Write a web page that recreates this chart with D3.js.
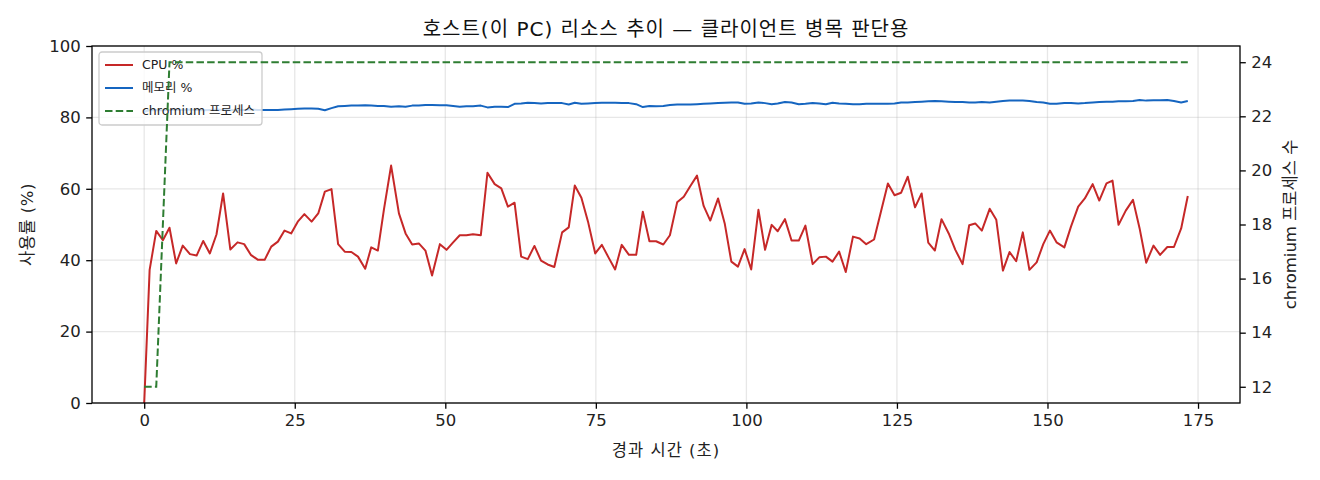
<!DOCTYPE html>
<html>
<head>
<meta charset="utf-8">
<script src="https://cdn.jsdelivr.net/npm/d3@7"></script>
<style>
  body { margin: 0; background: #fff; }
  svg { display: block; font-family: "DejaVu Sans", "Noto Sans CJK KR", sans-serif; }
</style>
</head>
<body>
<svg id="chart"></svg>
<script>
// elapsed seconds of each sample
const times = [
  0.0, 0.9, 2.0, 3.1, 4.2, 5.3, 6.4, 7.6, 8.7, 9.8,
  10.9, 12.0, 13.1, 14.3, 15.5, 16.6, 17.7, 18.9, 20.0, 21.1,
  22.2, 23.3, 24.4, 25.5, 26.6, 27.8, 28.9, 30.0, 31.1, 32.2,
  33.3, 34.4, 35.5, 36.7, 37.7, 38.8, 39.8, 41.0, 42.3, 43.4,
  44.5, 45.6, 46.7, 47.8, 49.1, 50.2, 51.3, 52.4, 53.5, 54.6,
  55.9, 57.0, 58.2, 59.3, 60.4, 61.5, 62.6, 63.7, 64.8, 65.9,
  67.0, 68.1, 69.4, 70.5, 71.5, 72.6, 73.7, 74.9, 76.0, 77.1,
  78.2, 79.3, 80.5, 81.7, 82.8, 83.9, 85.0, 86.2, 87.3, 88.5,
  89.6, 90.7, 91.8, 92.9, 94.0, 95.3, 96.4, 97.5, 98.6, 99.7,
  100.8, 102.0, 103.1, 104.2, 105.2, 106.4, 107.5, 108.7, 109.8, 111.0,
  112.1, 113.2, 114.3, 115.4, 116.5, 117.7, 118.8, 119.9, 121.2, 122.3,
  123.5, 124.6, 125.7, 126.8, 128.0, 129.1, 130.2, 131.3, 132.4, 133.6,
  134.7, 135.9, 137.0, 138.0, 139.1, 140.4, 141.5, 142.6, 143.7, 144.8,
  145.9, 147.0, 148.2, 149.3, 150.4, 151.5, 152.8, 153.9, 155.1, 156.2,
  157.5, 158.6, 159.8, 160.8, 161.8, 163.0, 164.2, 165.3, 166.4, 167.6,
  168.7, 169.9, 171.0, 172.2, 173.3
];

const cpu = [
  0, 37.3, 48.2, 45.6, 49.1, 39.1, 44.1, 41.7, 41.3, 45.4,
  41.9, 47.2, 58.7, 43.0, 45.0, 44.5, 41.5, 40.1, 40.1, 43.8,
  45.2, 48.3, 47.5, 50.8, 52.9, 50.8, 53.1, 59.2, 59.9, 44.5,
  42.4, 42.3, 41.0, 37.6, 43.6, 42.7, 54.1, 66.5, 53.1, 47.5,
  44.4, 44.7, 42.7, 35.7, 44.5, 42.9, 45.0, 47.0, 47.0, 47.3,
  47.0, 64.5, 61.3, 60.1, 55.0, 56.1, 41.0, 40.3, 44.0, 39.9,
  38.8, 38.1, 47.8, 49.2, 60.9, 57.5, 50.8, 41.9, 44.3, 40.8,
  37.4, 44.3, 41.5, 41.5, 53.6, 45.3, 45.3, 44.4, 47.0, 56.2,
  57.8, 60.8, 63.7, 55.2, 51.1, 57.3, 50.3, 39.6, 38.2, 43.1,
  37.4, 54.1, 42.9, 49.9, 48.1, 51.5, 45.5, 45.5, 49.7, 38.9,
  40.8, 41.0, 39.6, 42.4, 36.7, 46.6, 46.1, 44.5, 45.8, 53.3,
  61.5, 58.2, 58.9, 63.4, 54.8, 58.7, 44.9, 42.7, 51.5, 47.5,
  42.9, 38.9, 49.8, 50.3, 48.3, 54.4, 51.3, 37.1, 42.3, 39.7,
  47.8, 37.3, 39.4, 44.5, 48.3, 45.0, 43.6, 49.4, 55.0, 57.3,
  61.3, 56.7, 61.5, 62.3, 49.9, 53.9, 56.9, 48.9, 39.3, 44.1,
  41.5, 43.7, 43.7, 48.9, 58.0
];

const memory = [
  81.6, 82.0, 82.1, 82.0, 82.1, 82.2, 82.1, 82.2, 82.1, 82.0,
  82.1, 82.2, 82.1, 82.0, 82.1, 82.1, 82.2, 82.1, 82.1, 82.1,
  82.1, 82.2, 82.3, 82.4, 82.5, 82.5, 82.4, 82.0, 82.6, 83.1,
  83.2, 83.3, 83.3, 83.4, 83.3, 83.2, 83.2, 83.0, 83.1, 83.0,
  83.3, 83.3, 83.5, 83.5, 83.4, 83.4, 83.2, 83.0, 83.1, 83.1,
  83.3, 82.8, 83.0, 83.0, 82.9, 83.8, 83.9, 84.1, 84.0, 83.9,
  84.0, 84.0, 84.0, 83.6, 84.1, 83.8, 83.9, 84.0, 84.1, 84.1,
  84.1, 84.0, 84.0, 83.7, 82.9, 83.2, 83.1, 83.2, 83.5, 83.6,
  83.6, 83.6, 83.7, 83.8, 83.9, 84.0, 84.1, 84.2, 84.2, 83.8,
  83.9, 84.2, 84.0, 83.7, 83.9, 84.3, 84.2, 83.7, 83.8, 84.0,
  83.9, 83.7, 84.1, 83.9, 83.8, 83.7, 83.7, 83.8, 83.8, 83.8,
  83.8, 83.9, 84.2, 84.2, 84.3, 84.4, 84.5, 84.6, 84.5, 84.4,
  84.3, 84.3, 84.2, 84.2, 84.3, 84.2, 84.4, 84.6, 84.7, 84.7,
  84.7, 84.6, 84.3, 84.2, 83.8, 83.8, 84.0, 84.0, 83.9, 84.0,
  84.2, 84.3, 84.4, 84.4, 84.5, 84.5, 84.6, 84.9, 84.7, 84.8,
  84.8, 84.9, 84.6, 84.2, 84.6
];

// chromium process count (right axis)
const procs = [
  12, 12, 12, 18, 24, 24, 24, 24, 24, 24,
  24, 24, 24, 24, 24, 24, 24, 24, 24, 24,
  24, 24, 24, 24, 24, 24, 24, 24, 24, 24,
  24, 24, 24, 24, 24, 24, 24, 24, 24, 24,
  24, 24, 24, 24, 24, 24, 24, 24, 24, 24,
  24, 24, 24, 24, 24, 24, 24, 24, 24, 24,
  24, 24, 24, 24, 24, 24, 24, 24, 24, 24,
  24, 24, 24, 24, 24, 24, 24, 24, 24, 24,
  24, 24, 24, 24, 24, 24, 24, 24, 24, 24,
  24, 24, 24, 24, 24, 24, 24, 24, 24, 24,
  24, 24, 24, 24, 24, 24, 24, 24, 24, 24,
  24, 24, 24, 24, 24, 24, 24, 24, 24, 24,
  24, 24, 24, 24, 24, 24, 24, 24, 24, 24,
  24, 24, 24, 24, 24, 24, 24, 24, 24, 24,
  24, 24, 24, 24, 24, 24, 24, 24, 24, 24,
  24, 24, 24, 24, 24
];

const xTicks = [0, 25, 50, 75, 100, 125, 150, 175];
const yTicks = [0, 20, 40, 60, 80, 100];
const y2Ticks = [12, 14, 16, 18, 20, 22, 24];
const legendLabels = ['CPU %', '메모리 %', 'chromium 프로세스'];

const W = 1320, H = 480;
const mLeft = 92, mRight = 1240, mTop = 46, mBottom = 403;

const svg = d3.select('#chart').attr('width', W).attr('height', H);

// matplotlib-ish autoscale: 5% margin around the data range
const x = d3.scaleLinear().domain([-8.67, 181.97]).range([mLeft, mRight]);
const y = d3.scaleLinear().domain([0, 100]).range([mBottom, mTop]);
const y2 = d3.scaleLinear().domain([11.4, 24.6]).range([mBottom, mTop]);

const tickFont = 16.5;

// grid (left axis + x only)
const grid = svg.append('g').attr('stroke', '#b0b0b0').attr('stroke-opacity', 0.3).attr('stroke-width', 1.3);
grid.selectAll('.gx').data(xTicks).join('line').attr('class', 'gx')
  .attr('x1', d => x(d)).attr('x2', d => x(d)).attr('y1', mTop).attr('y2', mBottom);
grid.selectAll('.gy').data(yTicks).join('line').attr('class', 'gy')
  .attr('x1', mLeft).attr('x2', mRight).attr('y1', d => y(d)).attr('y2', d => y(d));

// clip lines to the plot area
svg.append('clipPath').attr('id', 'plot')
  .append('rect').attr('x', mLeft).attr('y', mTop).attr('width', mRight - mLeft).attr('height', mBottom - mTop);

const idx = d3.range(times.length);

const cpuLine = d3.line().x(i => x(times[i])).y(i => y(cpu[i]));
const memLine = d3.line().x(i => x(times[i])).y(i => y(memory[i]));
const procLine = d3.line().x(i => x(times[i])).y(i => y2(procs[i]));

const plot = svg.append('g').attr('clip-path', 'url(#plot)');
plot.append('path').attr('d', cpuLine(idx))
  .attr('fill', 'none').attr('stroke', '#c62828').attr('stroke-width', 2).attr('stroke-linejoin', 'round');
plot.append('path').attr('d', memLine(idx))
  .attr('fill', 'none').attr('stroke', '#1565c0').attr('stroke-width', 2).attr('stroke-linejoin', 'round');

// legend belongs to the left axis, so the right-axis line is drawn above it
const colors = ['#c62828', '#1565c0', '#2e7d32'];
const lg = svg.append('g').attr('transform', 'translate(99,52)');
lg.append('rect').attr('width', 163).attr('height', 73).attr('rx', 3)
  .attr('fill', '#fff').attr('fill-opacity', 0.8).attr('stroke', '#cccccc').attr('stroke-width', 1.3);
legendLabels.forEach((label, i) => {
  const ly = 13 + i * 23;
  lg.append('line').attr('x1', 6).attr('x2', 34).attr('y1', ly).attr('y2', ly)
    .attr('stroke', colors[i]).attr('stroke-width', 2)
    .attr('stroke-dasharray', i === 2 ? '7.5,3.2' : null);
  lg.append('text').attr('x', 43).attr('y', ly).attr('dy', '0.35em')
    .attr('font-size', 12.5).attr('fill', '#222').text(label);
});

svg.append('g').attr('clip-path', 'url(#plot)')
  .append('path').attr('d', procLine(idx))
  .attr('fill', 'none').attr('stroke', '#2e7d32').attr('stroke-width', 2).attr('stroke-dasharray', '7.5,3.2');

// axes
const xAxis = d3.axisBottom(x).tickValues(xTicks).tickSize(5.8).tickPadding(5.5);
const yAxis = d3.axisLeft(y).tickValues(yTicks).tickSize(5.8).tickPadding(5.5);
const y2Axis = d3.axisRight(y2).tickValues(y2Ticks).tickSize(5.8).tickPadding(5.5);

function styleAxis(g) {
  g.attr('font-family', null);
  g.select('.domain').remove();
  g.selectAll('.tick line').attr('stroke', '#000').attr('stroke-width', 1.3);
  g.selectAll('.tick text').attr('font-size', tickFont).attr('fill', '#222');
}

svg.append('g').attr('transform', `translate(0,${mBottom})`).call(xAxis).call(styleAxis);
svg.append('g').attr('transform', `translate(${mLeft},0)`).call(yAxis).call(styleAxis);
svg.append('g').attr('transform', `translate(${mRight},0)`).call(y2Axis).call(styleAxis);

// frame
svg.append('rect').attr('x', mLeft).attr('y', mTop).attr('width', mRight - mLeft).attr('height', mBottom - mTop)
  .attr('fill', 'none').attr('stroke', '#000').attr('stroke-width', 1.3);

// titles (a little letter spacing: the original font runs wider)
svg.append('text').attr('x', (mLeft + mRight) / 2).attr('y', 36).attr('text-anchor', 'middle')
  .attr('font-size', 20).attr('letter-spacing', 1).attr('fill', '#111')
  .text('호스트(이 PC) 리소스 추이 — 클라이언트 병목 판단용');

svg.append('text').attr('x', (mLeft + mRight) / 2).attr('y', 456).attr('text-anchor', 'middle')
  .attr('font-size', 16.5).attr('letter-spacing', 1).attr('fill', '#222').text('경과 시간 (초)');

svg.append('text').attr('transform', `translate(33,${(mTop + mBottom) / 2}) rotate(-90)`).attr('text-anchor', 'middle')
  .attr('font-size', 16.5).attr('letter-spacing', 0.5).attr('fill', '#222').text('사용률 (%)');

svg.append('text').attr('transform', `translate(1296,${(mTop + mBottom) / 2}) rotate(-90)`).attr('text-anchor', 'middle')
  .attr('font-size', 16.5).attr('fill', '#222').text('chromium 프로세스 수');
</script>
</body>
</html>
